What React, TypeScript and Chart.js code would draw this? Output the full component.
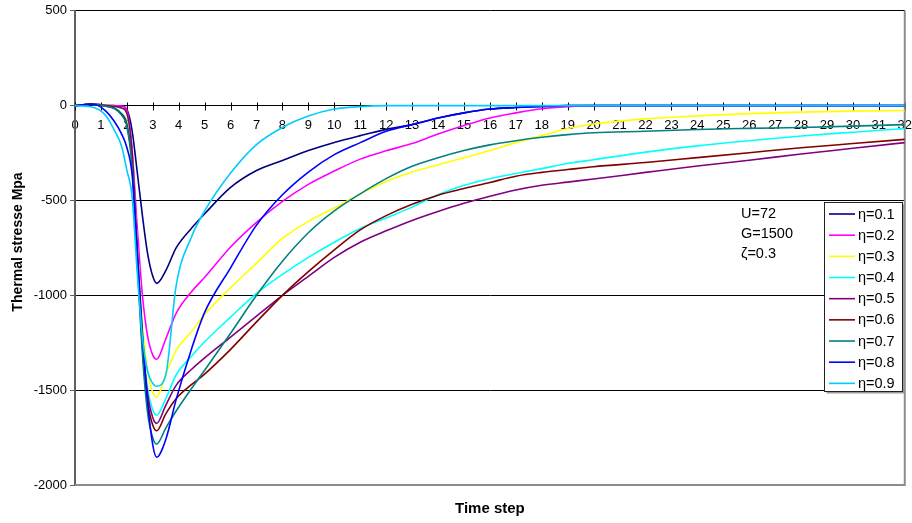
import React, { useEffect, useRef } from "react";
import { Chart, registerables } from "chart.js";

Chart.register(...registerables);

const FONT = '"Liberation Sans", Arial, Helvetica, sans-serif';

// Time steps (x values shared by all series)
const TIME = [0, 0.3, 0.6, 0.9, 1.2, 1.5, 1.8, 2.0, 2.2, 2.4, 2.6, 2.8, 3.0, 3.15, 3.5, 3.9, 4.5, 5, 6, 7, 8, 9, 10, 11, 12, 13, 14, 15, 16, 17, 18, 19, 20, 22, 24, 26, 28, 30, 32];

// Thermal stress (MPa) per eta value
const ETA_01 = [0, 4, 10, 7, 2, 0, -3, -20, -130, -350, -580, -780, -900, -937, -870, -750, -645, -570, -431, -342, -289, -237, -194, -158, -125, -100, -65, -38, -18, -10, -4, 0, 0, 0, 0, 0, 0, 0, 0];
const ETA_02 = [0, 3, 9, 6, 1, 0, -2, -25, -230, -640, -1000, -1215, -1315, -1337, -1230, -1095, -980, -905, -745, -615, -505, -415, -345, -282, -238, -200, -150, -105, -65, -38, -16, -5, 0, 0, 0, 0, 0, 0, 0];
const ETA_03 = [0, 3, 9, 5, 0, -3, -15, -45, -260, -740, -1150, -1400, -1512, -1537, -1415, -1290, -1190, -1100, -960, -830, -700, -610, -540, -465, -400, -350, -312, -275, -237, -195, -158, -121, -97, -70, -54, -42, -34, -29, -26];
const ETA_04 = [0, 3, 8, 3, -3, -10, -40, -90, -280, -780, -1220, -1490, -1605, -1632, -1545, -1420, -1320, -1245, -1115, -990, -890, -800, -720, -648, -592, -535, -470, -420, -385, -358, -332, -305, -285, -245, -212, -185, -160, -140, -121];
const ETA_05 = [0, 3, 9, 5, 0, -3, -12, -40, -240, -760, -1230, -1520, -1645, -1675, -1580, -1475, -1390, -1330, -1220, -1110, -1000, -900, -800, -720, -660, -605, -558, -515, -478, -445, -420, -403, -387, -352, -318, -288, -255, -225, -195];
const ETA_06 = [0, 3, 9, 4, -2, -12, -45, -100, -300, -800, -1270, -1560, -1685, -1714, -1625, -1545, -1470, -1415, -1285, -1140, -1000, -875, -760, -655, -580, -520, -472, -437, -405, -372, -352, -337, -322, -300, -274, -248, -222, -200, -178];
const ETA_07 = [0, 3, 9, 4, -3, -15, -50, -110, -320, -830, -1310, -1620, -1752, -1784, -1700, -1610, -1490, -1395, -1200, -1000, -820, -670, -555, -465, -385, -320, -275, -237, -207, -185, -167, -153, -143, -135, -126, -120, -115, -108, -100];
const ETA_08 = [0, 4, 8, 0, -30, -80, -150, -221, -360, -760, -1200, -1560, -1790, -1853, -1760, -1550, -1280, -1090, -855, -630, -470, -350, -258, -195, -135, -100, -65, -38, -18, -10, -4, 0, 0, 0, 0, 0, 0, 0, 0];
const ETA_09 = [0, -2, -6, -20, -55, -125, -215, -340, -480, -880, -1220, -1400, -1465, -1479, -1420, -950, -690, -555, -355, -205, -115, -55, -18, -5, 0, 0, 0, 0, 0, 0, 0, 0, 0, 0, 0, 0, 0, 0, 0];

const SERIES = [ETA_01, ETA_02, ETA_03, ETA_04, ETA_05, ETA_06, ETA_07, ETA_08, ETA_09];
const SERIES_LABELS = ["η=0.1", "η=0.2", "η=0.3", "η=0.4", "η=0.5", "η=0.6", "η=0.7", "η=0.8", "η=0.9"];
const SERIES_COLORS = ["#000080", "#FF00FF", "#FFFF00", "#00FFFF", "#800080", "#800000", "#008080", "#0000FF", "#00CCFF"];

const X_MIN = 0;
const X_MAX = 32;
const Y_MIN = -2000;
const Y_MAX = 500;
const Y_STEP = 500;

const ANNOTATION = ["U=72", "G=1500", "ζ=0.3"];
const X_TITLE = "Time step";
const Y_TITLE = "Thermal stresse Mpa";

const decorPlugin = {
  id: "decor",
  beforeDatasetsDraw(chart: any) {
    const { ctx, chartArea, scales } = chart;
    const xs = scales.x;
    const y0 = Math.round(scales.y.getPixelForValue(0)) + 0.5;
    ctx.save();
    ctx.strokeStyle = "#000";
    ctx.lineWidth = 1;
    ctx.beginPath();
    for (let i = X_MIN; i <= X_MAX; i++) {
      const px = Math.round(xs.getPixelForValue(i)) + 0.5;
      ctx.moveTo(px, y0 - 4);
      ctx.lineTo(px, y0 + 4);
    }
    ctx.stroke();
    // right & bottom plot border
    ctx.strokeStyle = "#8c8c8c";
    ctx.lineWidth = 2;
    ctx.beginPath();
    ctx.moveTo(chartArea.right, chartArea.top);
    ctx.lineTo(chartArea.right, chartArea.bottom);
    ctx.lineTo(chartArea.left, chartArea.bottom);
    ctx.stroke();
    ctx.restore();
  },
  afterDraw(chart: any) {
    const { ctx, chartArea } = chart;
    ctx.save();
    ctx.fillStyle = "#000";
    ctx.textAlign = "center";
    ctx.textBaseline = "middle";
    // Y title
    ctx.font = `bold 14px ${FONT}`;
    ctx.save();
    ctx.translate(18.5, 242);
    ctx.rotate(-Math.PI / 2);
    ctx.fillText(Y_TITLE, 0, 0);
    ctx.restore();
    // X title
    ctx.font = `bold 15px ${FONT}`;
    ctx.fillText(X_TITLE, (chartArea.left + chartArea.right) / 2, 509);

    // annotation
    ctx.font = `14.5px ${FONT}`;
    ctx.textAlign = "left";
    ANNOTATION.forEach((t, i) => {
      ctx.fillText(t, 741, 214 + i * 19.8);
    });

    // legend box
    const bx = 824.5, by = 202.5, bw = 78, bh = 189;
    ctx.fillStyle = "#9a9a9a";
    ctx.fillRect(bx + 2, by + 2, bw, bh);
    ctx.fillStyle = "#fff";
    ctx.fillRect(bx, by, bw, bh);
    ctx.strokeStyle = "#222";
    ctx.lineWidth = 1;
    ctx.strokeRect(bx, by, bw, bh);
    ctx.font = `14.5px ${FONT}`;
    SERIES_LABELS.forEach((lab, i) => {
      const y = 214 + i * 21.17;
      ctx.strokeStyle = SERIES_COLORS[i];
      ctx.lineWidth = 1.6;
      ctx.beginPath();
      ctx.moveTo(829, y);
      ctx.lineTo(855, y);
      ctx.stroke();
      ctx.fillStyle = "#000";
      ctx.fillText(lab, 858, y + 0.5);
    });
    ctx.restore();
  },
};

export default function App() {
  const ref = useRef<HTMLCanvasElement>(null);
  useEffect(() => {
    const datasets = SERIES.map((vals, i) => ({
      label: SERIES_LABELS[i],
      data: TIME.map((t, k) => ({ x: t, y: vals[k] })),
      borderColor: SERIES_COLORS[i],
      backgroundColor: SERIES_COLORS[i],
      borderWidth: 1.6,
      pointRadius: 0,
      fill: false,
      cubicInterpolationMode: "monotone" as const,
      order: SERIES.length - 1 - i,
    }));
    const chart = new Chart(ref.current as HTMLCanvasElement, {
      type: "line",
      data: { datasets },
      options: {
        responsive: false,
        animation: false,
        devicePixelRatio: 1,
        events: [],
        layout: { padding: { top: 10, right: 7, bottom: 38, left: 0 } },
        plugins: { legend: { display: false }, tooltip: { enabled: false } },
        scales: {
          x: {
            type: "linear",
            position: { y: 0 } as any,
            min: X_MIN,
            max: X_MAX,
            ticks: {
              stepSize: 1,
              autoSkip: false,
              maxRotation: 0,
              minRotation: 0,
              padding: 0,
              color: "#000",
              font: { family: FONT, size: 13 },
              callback: (v: any) => String(v),
            },
            grid: { display: false, drawTicks: true, tickLength: 12 },
            border: { display: true, color: "#000", width: 1 },
          },
          y: {
            type: "linear",
            min: Y_MIN,
            max: Y_MAX,
            ticks: {
              stepSize: Y_STEP,
              padding: 3,
              color: "#000",
              font: { family: FONT, size: 13 },
              callback: (v: any) => String(v),
            },
            grid: {
              color: (c: any) => (c.tick && c.tick.value === Y_MIN ? "rgba(0,0,0,0)" : "#000"),
              lineWidth: 1,
              tickLength: 5,
              tickColor: "#606060",
            },
            border: { color: "#606060", width: 2 },
            afterFit: (s: any) => {
              s.width = 75;
            },
          },
        },
      },
      plugins: [decorPlugin],
    });
    return () => chart.destroy();
  }, []);
  return (
    <div style={{ position: "absolute", left: 0, top: 0, width: 912, height: 523, background: "#fff" }}>
      <canvas ref={ref} width={912} height={523} style={{ display: "block" }} />
    </div>
  );
}
